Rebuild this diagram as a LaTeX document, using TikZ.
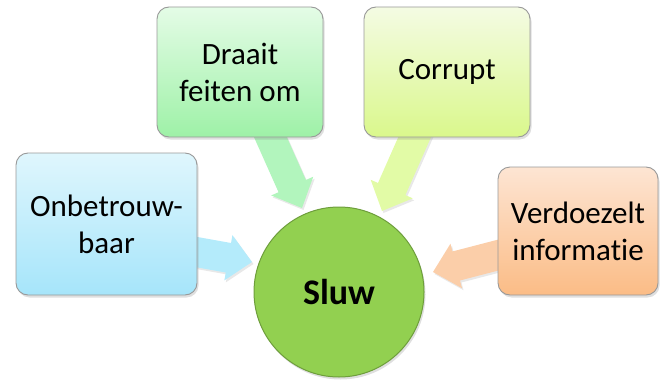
\documentclass[tikz,border=0pt]{standalone}
\usepackage{fontspec}
\setmainfont{Carlito}[Ligatures=NoCommon]
\usetikzlibrary{calc,shadows}
\definecolor{obT}{HTML}{DFF6FD}
\definecolor{obB}{HTML}{A6E5FA}
\definecolor{obA}{HTML}{B4EBFB}
\definecolor{drT}{HTML}{E4FCE6}
\definecolor{drB}{HTML}{9EF1A7}
\definecolor{drA}{HTML}{B2F5BD}
\definecolor{coT}{HTML}{F4FBE3}
\definecolor{coB}{HTML}{DAF88C}
\definecolor{coA}{HTML}{E2FBA6}
\definecolor{veT}{HTML}{FDE5D3}
\definecolor{veB}{HTML}{FBBC86}
\definecolor{veA}{HTML}{FBCEA9}
\definecolor{slF}{HTML}{92D050}
\definecolor{slD}{HTML}{6E9E3C}
\tikzset{
  boxshape/.style={rectangle, rounded corners=12pt, draw=black!40, line width=0.9pt,
    align=center, inner sep=0pt, font=\fontsize{31}{37}\selectfont,
    drop shadow={opacity=0.25, shadow xshift=1.5pt, shadow yshift=-2.5pt}},
  arrowshape/.style={draw=none, drop shadow={opacity=0.18, shadow xshift=1.5pt, shadow yshift=-2pt}},
  hub/.style={circle, fill=slF, draw=slD, line width=1pt, inner sep=0pt,
    minimum size=170pt, font=\fontsize{36}{40}\selectfont\bfseries,
    drop shadow={opacity=0.25, shadow xshift=1.5pt, shadow yshift=-2.5pt}}
}
\newcommand{\blockarrow}[3]{%
  \coordinate (hb) at ($(#2)!24pt!(#1)$);
  \fill[arrowshape, fill=#3]
    ($(#1)!15pt!90:(#2)$) -- ($(hb)!15pt!-90:(#1)$) -- ($(hb)!23pt!-90:(#1)$) -- (#2)
    -- ($(hb)!23pt!90:(#1)$) -- ($(hb)!15pt!90:(#1)$) -- ($(#1)!15pt!-90:(#2)$) -- cycle;
}
\begin{document}
\begin{tikzpicture}[x=1pt,y=-1pt]
\useasboundingbox (0,0) rectangle (660,385);
% connector endpoints
\coordinate (s1) at (185,250);
\coordinate (t1) at (252,262);
\coordinate (s2) at (265,125);
\coordinate (t2) at (302,208);
\coordinate (s3) at (420,125);
\coordinate (t3) at (382,211);
\coordinate (s4) at (510,252);
\coordinate (t4) at (433,272);
% arrows
\blockarrow{s1}{t1}{obA}
\blockarrow{s2}{t2}{drA}
\blockarrow{s3}{t3}{coA}
\blockarrow{s4}{t4}{veA}
% boxes
\node[boxshape, minimum width=181pt, minimum height=142pt, top color=obT, bottom color=obB]
  (ob) at (106.5,224) {Onbetrouw-\\baar};
\node[boxshape, minimum width=166pt, minimum height=130pt, top color=drT, bottom color=drB]
  (dr) at (240,72) {Draait\\feiten om};
\node[boxshape, minimum width=166pt, minimum height=130pt, top color=coT, bottom color=coB]
  (co) at (447,72) {Corrupt};
\node[boxshape, minimum width=160pt, minimum height=128pt, top color=veT, bottom color=veB]
  (ve) at (578,231) {Verdoezelt\\informatie};
% hub
\node[hub] (sl) at (339,292) {Sluw};
\end{tikzpicture}
\end{document}
